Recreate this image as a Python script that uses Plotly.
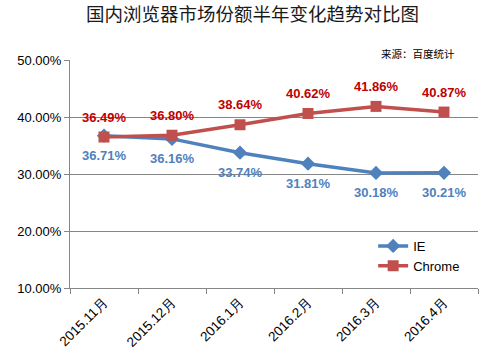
import plotly.graph_objects as go

months = ["2015.11月", "2015.12月", "2016.1月", "2016.2月", "2016.3月", "2016.4月"]
ie = [36.71, 36.16, 33.74, 31.81, 30.18, 30.21]
chrome = [36.49, 36.80, 38.64, 40.62, 41.86, 40.87]
y_ticks = [10, 20, 30, 40, 50]

BLUE = "#4f81bd"
RED = "#c0504d"
FONT = "Liberation Sans, Arial, sans-serif"

fig = go.Figure()
fig.add_trace(go.Scatter(
    x=months, y=ie, name="IE", mode="lines+markers",
    line=dict(color=BLUE, width=3.5),
    marker=dict(symbol="diamond", size=11, color=BLUE),
))
fig.add_trace(go.Scatter(
    x=months, y=chrome, name="Chrome", mode="lines+markers",
    line=dict(color=RED, width=3.5),
    marker=dict(symbol="square", size=11, color=RED),
))

# data labels
for m, v in zip(months, ie):
    fig.add_annotation(x=m, y=v, text=f"<b>{v:.2f}%</b>", showarrow=False,
                       yshift=-20, font=dict(size=13, family=FONT, color="#4f81bd"))
for m, v in zip(months, chrome):
    fig.add_annotation(x=m, y=v, text=f"<b>{v:.2f}%</b>", showarrow=False,
                       yshift=20, font=dict(size=13, family=FONT, color="#c00000"))

fig.update_layout(
    width=495, height=356,
    margin=dict(l=70, r=17, t=60, b=68, autoexpand=False),
    paper_bgcolor="white", plot_bgcolor="white",
    font=dict(family=FONT, size=13, color="#000"),
    title=dict(text="国内浏览器市场份额半年变化趋势对比图", x=0.51, xanchor="center",
               y=1 - 15 / 356, yanchor="middle",
               font=dict(size=18.5, family="Noto Sans CJK SC", color="#1a1a1a")),
    showlegend=True,
    legend=dict(x=0.743, y=0.25, xanchor="left", yanchor="top",
                bgcolor="rgba(0,0,0,0)", font=dict(size=13, family=FONT),
                tracegroupgap=0, itemwidth=30),
    xaxis=dict(type="category", tickson="boundaries", ticks="outside", ticklen=5,
               tickcolor="#868686", showline=True, linecolor="#868686", linewidth=1,
               showgrid=False, tickangle=-45, tickfont=dict(size=13.5, color="#000"),
               range=[-0.5, 5.5], automargin=False),
    yaxis=dict(range=[10, 50], tickvals=y_ticks,
               ticktext=[f"{v:.2f}%" for v in y_ticks],
               ticks="outside", ticklen=5, tickcolor="#868686",
               showline=True, linecolor="#868686", linewidth=1,
               showgrid=True, gridcolor="#868686", gridwidth=1,
               zeroline=False, tickfont=dict(size=13, color="#000"), automargin=False),
)
fig.add_annotation(text="来源：百度统计", xref="paper", yref="paper",
                   x=0.949, y=1.0, xanchor="right", yanchor="middle", yshift=7,
                   showarrow=False,
                   font=dict(size=10.5, family="Noto Sans CJK SC", color="#000"))

fig.write_html(
    "out.html",
    config={"displayModeBar": False},
    post_script="document.body.style.margin='0px';document.body.style.overflow='hidden';",
)
